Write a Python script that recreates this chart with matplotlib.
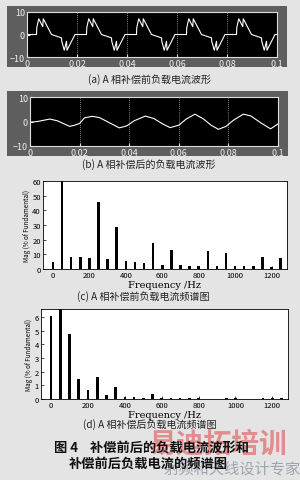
import matplotlib
matplotlib.use('Agg')
import matplotlib.pyplot as plt
from matplotlib.patches import Rectangle

plt.rcParams['font.family'] = ['Noto Sans CJK SC', 'DejaVu Sans']

# (a) load current before compensation: one period (20 ms)
period_len = 0.02
n_periods = 5
period_t = [0.000, 0.0038, 0.0039, 0.0047, 0.0063, 0.0065, 0.0098, 0.0138,
            0.0139, 0.0149, 0.0158, 0.0160, 0.0192, 0.0200]
period_i = [0.0, 0.0, 3.0, 7.0, 3.5, 7.0, 0.0, -1.5,
            -3.0, -7.0, -3.0, -7.0, 0.0, 0.0]

# (b) load current after compensation
after_t = [0, 0.003, 0.008, 0.011, 0.016, 0.018, 0.020, 0.022, 0.025, 0.028,
           0.032, 0.036, 0.039, 0.042, 0.0465, 0.050, 0.0535, 0.0565, 0.060,
           0.063, 0.0665, 0.070, 0.073, 0.076, 0.079, 0.082, 0.086, 0.089,
           0.093, 0.097, 0.100]
after_i = [-0.3, 0.0, 1.0, 0.3, -2.0, -1.5, -0.8, 1.5, 2.1, 1.6,
           -0.5, -2.6, -1.8, 0.3, 2.2, 1.2, -1.0, -2.5, -1.5,
           1.0, 3.0, 1.0, -1.5, -3.2, -2.0, 0.5, 3.0, 2.3,
           -0.5, -3.0, -1.0]

# (c), (d) spectra
freq_hz = [0, 50, 100, 150, 200, 250, 300, 350, 400, 450, 500, 550, 600,
           650, 700, 750, 800, 850, 900, 950, 1000, 1050, 1100, 1150, 1200, 1250]
mag_before = [4.5, 61, 8.5, 8, 7.5, 46, 6.5, 28.5, 5.5, 4.5, 4, 17.5, 3,
              13, 2.5, 2, 2, 12.5, 2, 11, 2, 2, 2, 8.5, 1.5, 7.5]
mag_after = [6.1, 6.7, 4.75, 1.45, 0.65, 1.65, 0.3, 0.9, 0.15, 0.15, 0.1, 0.35,
             0.1, 0.1, 0.05, 0.05, 0.05, 0.03, 0.03, 0.06, 0.04, 0.03, 0.03,
             0.04, 0.04, 0.04]

wave_ticks = [0, 0.02, 0.04, 0.06, 0.08, 0.1]
wave_ticklabels = ['0', '0.02', '0.04', '0.06', '0.08', '0.1']
freq_ticks = [0, 200, 400, 600, 800, 1000, 1200]

W, H = 300, 481
fig = plt.figure(figsize=(W / 100, H / 100), dpi=100, facecolor='#e4e4e4')

def fx(px):
    return px / W

def fy(py):
    return 1 - py / H

# dark grey bands behind the time-domain plots
for (x0, y0, x1, y1) in [(7, 7, 287, 68), (7, 92, 288, 157)]:
    fig.patches.append(Rectangle((fx(x0), fy(y1)), fx(x1) - fx(x0), fy(y0) - fy(y1),
                                 transform=fig.transFigure, facecolor='#5e5e5e',
                                 edgecolor='none', zorder=-10))

def wave_axes(rect):
    ax = fig.add_axes(rect)
    ax.set_zorder(2)
    ax.set_facecolor('black')
    for s in ax.spines.values():
        s.set_color('#dddddd')
        s.set_linewidth(0.8)
    ax.set_xlim(0, 0.1)
    ax.set_ylim(-10, 10)
    ax.set_xticks(wave_ticks)
    ax.set_xticklabels(wave_ticklabels)
    ax.set_yticks([-10, 0, 10])
    ax.tick_params(colors='#f0f0f0', labelsize=6.5, length=2, direction='in', pad=1.5)
    for t in wave_ticks[1:-1]:
        ax.axvline(t, color='#aaaaaa', lw=0.6, ls=(0, (1, 1.5)))
    return ax

# (a)
ax_a = wave_axes([fx(27), fy(58), fx(277) - fx(27), fy(13) - fy(58)])
ta, ia = [], []
for k in range(n_periods):
    ta += [t + k * period_len for t in period_t]
    ia += period_i
ax_a.plot(ta, ia, color='white', lw=0.8)

# (b)
ax_b = wave_axes([fx(30), fy(147), fx(278) - fx(30), fy(98) - fy(147)])
ax_b.plot(after_t, after_i, color='white', lw=0.8)

def spec_axes(rect, vals, ylim, yticks):
    ax = fig.add_axes(rect)
    ax.set_zorder(2)
    ax.set_facecolor('white')
    ax.bar(freq_hz, vals, width=14, color='black')
    ax.set_xlim(-55, 1285)
    ax.set_ylim(*ylim)
    ax.set_xticks(freq_ticks)
    ax.set_yticks(yticks)
    ax.tick_params(labelsize=5.5, length=2, direction='in', pad=1.5, width=0.5)
    for s in ax.spines.values():
        s.set_linewidth(0.6)
    ax.set_xlabel('Frequency /Hz', fontsize=7, labelpad=1,
                  family=['DejaVu Serif'])
    ax.set_ylabel('Mag (% of Fundamental)', fontsize=4.5, labelpad=1)
    return ax

spec_axes([fx(43), fy(270), fx(287) - fx(43), fy(182) - fy(270)],
          mag_before, (0, 60), [0, 10, 20, 30, 40, 50, 60])
spec_axes([fx(41), fy(400), fx(288) - fx(41), fy(310) - fy(400)],
          mag_after, (0, 6.6), [0, 1, 2, 3, 4, 5, 6])

cap_kw = dict(ha='center', va='center', fontsize=7.2, color='#222222')
fig.text(fx(149), fy(80), '(a) A 相补偿前负载电流波形', **cap_kw)
fig.text(fx(149), fy(165), '(b) A 相补偿后的负载电流波形', **cap_kw)
fig.text(fx(143), fy(297), '(c) A 相补偿前负载电流频谱图', **cap_kw)
fig.text(fx(150), fy(425), '(d) A 相补偿后负载电流频谱图', **cap_kw)

# watermark
fig.text(fx(218), fy(445), '易迪拓培训', ha='center', va='center', fontsize=20,
         fontweight='bold', color='#e07070', alpha=0.75)
fig.text(fx(232), fy(469), '射频和天线设计专家', ha='center', va='center', fontsize=11,
         color='#8a96a6', alpha=0.8)

fig.text(fx(151), fy(448), '图 4    补偿前后的负载电流波形和', ha='center', va='center',
         fontsize=9.5, fontweight='bold', color='#111111')
fig.text(fx(148), fy(464), '补偿前后负载电流的频谱图', ha='center', va='center',
         fontsize=9.5, fontweight='bold', color='#111111')

fig.savefig('out.png', dpi=100, facecolor=fig.get_facecolor())
